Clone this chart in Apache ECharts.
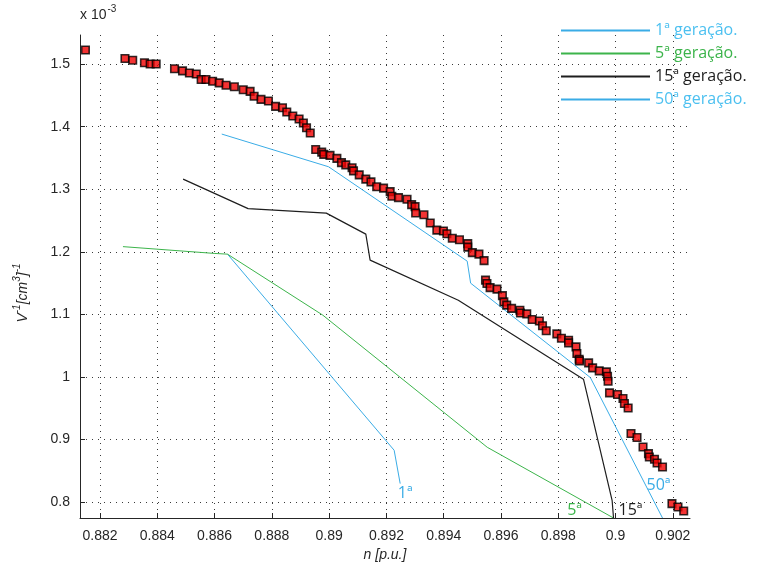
<!DOCTYPE html>
<html>
<head>
<meta charset="utf-8">
<script src="https://cdn.jsdelivr.net/npm/echarts@6/dist/echarts.min.js"></script>
<style>
  html, body { margin: 0; padding: 0; background: #fff; }
  #chart { width: 758px; height: 569px; }
</style>
</head>
<body>
<div id="chart"></div>
<script>
// Axis ticks (n in p.u., V^-1 in units of 1e-3)
const xTicks = [0.882, 0.884, 0.886, 0.888, 0.89, 0.892, 0.894, 0.896, 0.898, 0.9, 0.902];
const yTicks = [0.8, 0.9, 1, 1.1, 1.2, 1.3, 1.4, 1.5];

// Measured points
const measN = [0.88149, 0.88287, 0.88314, 0.88355, 0.88375, 0.88396, 0.88460, 0.88488, 0.88512, 0.88536,
  0.88553, 0.88570, 0.88593, 0.88616, 0.88640, 0.88669, 0.88700, 0.88724, 0.88738, 0.88762,
  0.88788, 0.88813, 0.88837, 0.88852, 0.88873, 0.88895, 0.88910, 0.88921, 0.88934, 0.88953,
  0.88974, 0.88981, 0.89003, 0.89027, 0.89043, 0.89058, 0.89080, 0.89085, 0.89105, 0.89128,
  0.89146, 0.89166, 0.89190, 0.89213, 0.89219, 0.89242, 0.89272, 0.89288, 0.89300, 0.89302,
  0.89331, 0.89353, 0.89376, 0.89399, 0.89411, 0.89430, 0.89455, 0.89484, 0.89484, 0.89500,
  0.89523, 0.89541, 0.89546, 0.89551, 0.89562, 0.89586, 0.89605, 0.89610, 0.89620, 0.89637,
  0.89666, 0.89668, 0.89690, 0.89709, 0.89734, 0.89745, 0.89758, 0.89795, 0.89811, 0.89836,
  0.89836, 0.89862, 0.89865, 0.89873, 0.89874, 0.89906, 0.89920, 0.89943, 0.89968, 0.89972,
  0.89974, 0.89979, 0.90007, 0.90026, 0.90031, 0.90044, 0.90054, 0.90075, 0.90096, 0.90115,
  0.90118, 0.90136, 0.90145, 0.90164, 0.90197, 0.90218, 0.90238];
const measV = [1.5227, 1.5091, 1.5064, 1.5024, 1.5003, 1.5003, 1.4928, 1.4894, 1.4859, 1.4843,
  1.4755, 1.4755, 1.4728, 1.4702, 1.4664, 1.4640, 1.4592, 1.4566, 1.4488, 1.4438,
  1.4411, 1.4326, 1.4304, 1.4235, 1.4171, 1.4123, 1.4059, 1.3984, 1.3899, 1.3635,
  1.3595, 1.3558, 1.3542, 1.3494, 1.3427, 1.3390, 1.3344, 1.3294, 1.3230, 1.3163,
  1.3118, 1.3040, 1.3019, 1.2963, 1.2888, 1.2867, 1.2840, 1.2755, 1.2723, 1.2622,
  1.2592, 1.2462, 1.2347, 1.2334, 1.2288, 1.2216, 1.2192, 1.2131, 1.2075, 1.1987,
  1.1963, 1.1859, 1.1547, 1.1494, 1.1427, 1.1403, 1.1299, 1.1200, 1.1147, 1.1096,
  1.1067, 1.1022, 1.1008, 1.0918, 1.0894, 1.0819, 1.0739, 1.0688, 1.0619, 1.0587,
  1.0544, 1.0480, 1.0374, 1.0283, 1.0256, 1.0224, 1.0144, 1.0096, 1.0080, 1.0011,
  0.9931, 0.9744, 0.9718, 0.9654, 0.9574, 0.9504, 0.9094, 0.9030, 0.8880, 0.8774,
  0.8720, 0.8683, 0.8624, 0.8560, 0.7974, 0.7920, 0.7856];

// Generation curves
const gen1N = [0.88645, 0.89227, 0.89248];
const gen1V = [1.1963, 0.8827, 0.8294];

const gen5N = [0.88280, 0.88601, 0.88645, 0.88978, 0.89552, 0.89993];
const gen5V = [1.2083, 1.1974, 1.1963, 1.0987, 0.8875, 0.7744];

const gen15N = [0.88490, 0.88717, 0.88990, 0.89128, 0.89143, 0.89451, 0.89888, 0.89988, 0.89993];
const gen15V = [1.3163, 1.2691, 1.2619, 1.2283, 1.1867, 1.1227, 0.9963, 0.8027, 0.7744];

const gen50N = [0.88625, 0.88998, 0.89482, 0.89494, 0.89912, 0.90164];
const gen50V = [1.3883, 1.3360, 1.1851, 1.1499, 0.9990, 0.7744];

const seriesNames = ['1ª geração.', '5ª geração.', '15ª geração.', '50ª geração.'];
const endTags = ['1ª', '5ª', '15ª', '50ª'];

const zip = (a, b) => a.map((v, i) => [v, b[i]]);

const BLUE = '#3aace6';
const BLUE_TXT = '#4cc0f0';
const GREEN = '#3cb44b';
const BLACK = '#1e1e1e';
const LABEL_FONT = '"Open Sans", Lato, sans-serif';

function genSeries(name, n, v, color, textColor, tag, offset, width) {
  const pts = zip(n, v);
  const last = pts[pts.length - 1];
  return {
    name: name,
    type: 'line',
    data: pts,
    symbol: 'none',
    color: color,
    lineStyle: { color: color, width: width || 1 },
    animation: false,
    z: 2,
    markPoint: {
      symbol: 'circle',
      symbolSize: 1,
      itemStyle: { color: 'rgba(0,0,0,0)' },
      animation: false,
      data: [{
        coord: last,
        label: {
          show: true,
          formatter: tag,
          position: 'inside',
          offset: offset,
          color: textColor,
          fontFamily: LABEL_FONT,
          fontSize: 16
        }
      }]
    }
  };
}

const gridStyle = { show: true, lineStyle: { color: '#3a3a3a', width: 1, type: [1, 5] } };
const axisFont = { fontFamily: '"Liberation Sans", Arial, sans-serif', fontSize: 14, color: '#262626' };

const chart = echarts.init(document.getElementById('chart'), null, { renderer: 'canvas' });

chart.setOption({
  backgroundColor: '#ffffff',
  animation: false,
  grid: { left: 80, right: 68, top: 35, bottom: 51, containLabel: false },
  legend: {
    show: true,
    orient: 'vertical',
    left: 561,
    top: 22,
    icon: 'rect',
    itemWidth: 89,
    itemHeight: 2,
    itemGap: 6,
    padding: 0,
    selectedMode: false,
    textStyle: { fontFamily: LABEL_FONT, fontSize: 16, lineHeight: 17, padding: [0, 0, 0, 0] },
    data: [
      { name: seriesNames[0], textStyle: { color: BLUE_TXT } },
      { name: seriesNames[1], textStyle: { color: GREEN } },
      { name: seriesNames[2], textStyle: { color: BLACK } },
      { name: seriesNames[3], textStyle: { color: BLUE_TXT } }
    ]
  },
  xAxis: {
    type: 'value',
    min: 0.8813,
    max: 0.9026,
    axisLine: { show: true, onZero: false, lineStyle: { color: '#262626', width: 1 } },
    axisTick: { show: true, inside: true, length: 5, customValues: xTicks, lineStyle: { color: '#262626' } },
    axisLabel: Object.assign({ customValues: xTicks, margin: 11 }, axisFont),
    splitLine: gridStyle,
    name: 'n [p.u.]',
    nameLocation: 'middle',
    nameGap: 26,
    nameTextStyle: { fontFamily: '"Liberation Sans", Arial, sans-serif', fontSize: 14, fontStyle: 'italic', color: '#262626' }
  },
  yAxis: {
    type: 'value',
    min: 0.7744,
    max: 1.5467,
    axisLine: { show: true, onZero: false, lineStyle: { color: '#262626', width: 1 } },
    axisTick: { show: true, inside: true, length: 5, customValues: yTicks, lineStyle: { color: '#262626' } },
    axisLabel: Object.assign({ customValues: yTicks, margin: 10 }, axisFont),
    splitLine: gridStyle
  },
  graphic: [
    {
      type: 'text',
      left: 80,
      top: 4,
      style: {
        text: '{b|x 10}{s|-3}',
        rich: {
          b: { fontFamily: '"Liberation Sans", Arial, sans-serif', fontSize: 14, fill: '#262626', verticalAlign: 'bottom', lineHeight: 18 },
          s: { fontFamily: '"Liberation Sans", Arial, sans-serif', fontSize: 10, fill: '#262626', verticalAlign: 'top', lineHeight: 18, padding: [0, 0, 8, 1] }
        }
      }
    },
    {
      type: 'text',
      x: 21,
      y: 293,
      rotation: Math.PI / 2,
      style: {
        text: '{b|V}{s|-1}{b|[cm}{s|3}{b|]}{s|-1}',
        align: 'center',
        verticalAlign: 'middle',
        rich: {
          b: { fontFamily: '"Liberation Sans", Arial, sans-serif', fontSize: 14, fontStyle: 'italic', fill: '#262626', lineHeight: 18, verticalAlign: 'bottom' },
          s: { fontFamily: '"Liberation Sans", Arial, sans-serif', fontSize: 10, fontStyle: 'italic', fill: '#262626', lineHeight: 18, verticalAlign: 'top' }
        }
      }
    }
  ],
  series: [
    genSeries(seriesNames[0], gen1N, gen1V, BLUE, BLUE, endTags[0], [5, 10]),
    genSeries(seriesNames[1], gen5N, gen5V, GREEN, GREEN, endTags[1], [-39, -8]),
    genSeries(seriesNames[2], gen15N, gen15V, BLACK, BLACK, endTags[2], [17, -8], 1.2),
    genSeries(seriesNames[3], gen50N, gen50V, BLUE, BLUE, endTags[3], [-4, -33]),
    {
      name: 'medido',
      type: 'scatter',
      data: zip(measN, measV),
      symbol: 'rect',
      symbolSize: 7.5,
      itemStyle: { color: '#f00000', borderColor: '#000', borderWidth: 1.6 },
      animation: false,
      z: 5
    }
  ]
});
</script>
</body>
</html>
